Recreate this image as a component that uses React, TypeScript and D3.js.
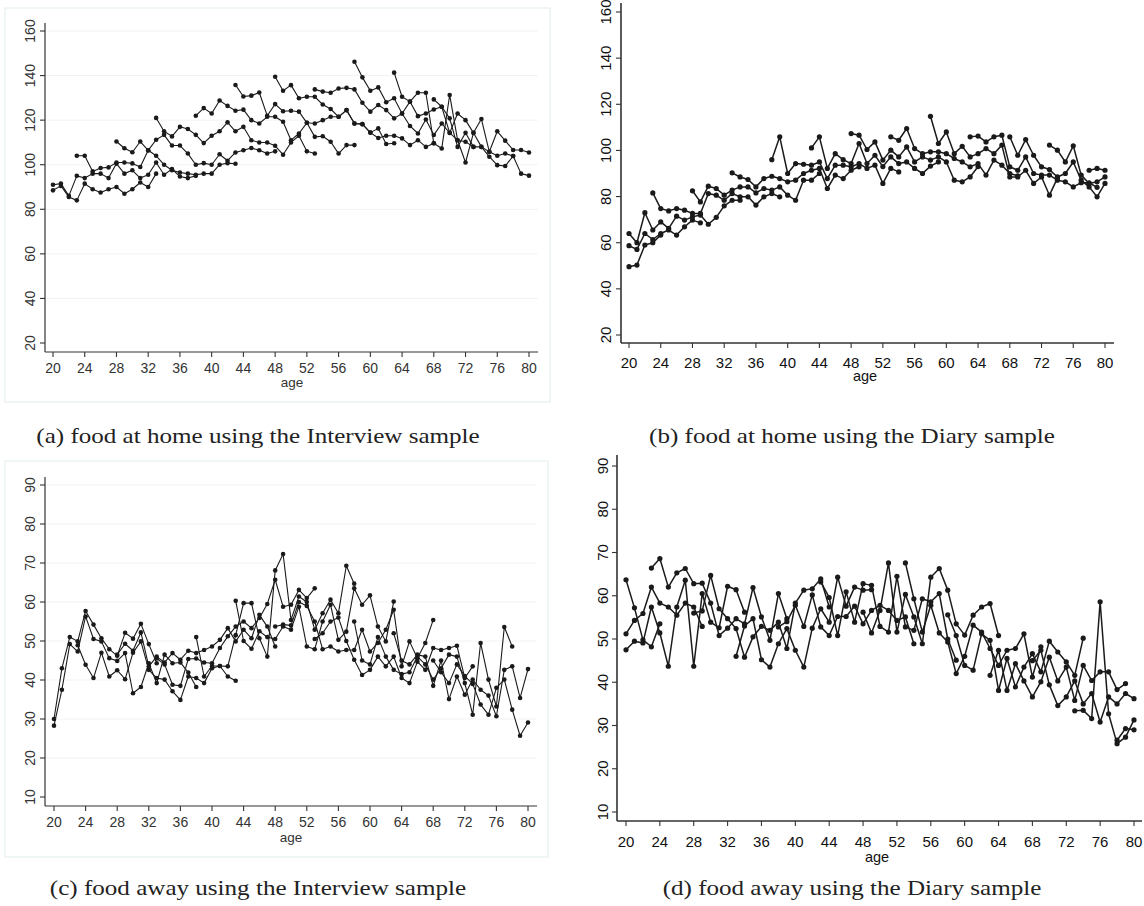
import React from 'react';
import * as d3 from 'd3';

// age ticks shared by all four panels
const xTicks = [20, 24, 28, 32, 36, 40, 44, 48, 52, 56, 60, 64, 68, 72, 76, 80];
const homeTicks = [20, 40, 60, 80, 100, 120, 140, 160];
const awayTicks = [10, 20, 30, 40, 50, 60, 70, 80, 90];

// first age shown for each cohort line
const interviewStarts = [20, 20, 23, 28, 33, 38, 43, 48, 53, 58, 63, 68];
const diaryStarts = [20, 20, 20, 23, 28, 33, 38, 43, 48, 53, 58, 63, 68, 73, 78];

// (a) food at home, Interview sample
const interviewHome = [
  [88.5, 90.5, 85.5, 84, 91.5, 89, 87.5, 89, 90, 87, 89, 92, 90, 96],
  [91, 91.5, 86, 95, 94, 96, 96, 94, 100.5, 96, 97.5, 94, 95.5, 101, 95.5, 98, 94.7, 94, 95],
  [104, 104, 97, 98.5, 98.8, 101, 101, 100.6, 99, 106.5, 104, 100, 97.5, 96.5, 96, 95.5, 96, 96, 100, 100.7, 100.4],
  [110.4, 107.4, 105.6, 110.4, 106.4, 111.2, 113.4, 108.6, 108.6, 105, 100, 100.7, 100, 104.7, 101.8, 105.5, 106.5, 107.5, 106.5, 105, 106],
  [121, 115, 112.7, 117, 116, 113.4, 109.7, 113, 115, 119, 115, 117, 111, 110, 110, 108.5, 104.5, 110, 113, 106, 105],
  [122, 125.4, 123, 128.8, 126.4, 124.2, 124.7, 120, 118.5, 121.5, 121.5, 119.3, 111, 114, 118.8, 112.5, 112.8, 110.3, 105, 108.8, 108.8],
  [135.8, 130.6, 131, 132.4, 122, 127.2, 124, 124.2, 123.8, 118.8, 118.5, 120, 121.5, 121.5, 124.5, 118.5, 118.2, 114.4, 116.3, 109.3, 109.6],
  [139.5, 133.2, 135.7, 129.8, 130.5, 130.5, 127, 125, 121.5, 124.5, 118.5, 118.2, 114.4, 112, 113, 113, 111.8, 108.8, 111, 108, 109.6],
  [133.8, 132.8, 132.3, 134.2, 134.5, 133.8, 127.8, 123.8, 126.8, 124.5, 120.8, 123, 117.4, 114, 120.3, 113.3, 118.5, 114.3, 111, 110.3, 108],
  [146.2, 139.2, 133.2, 134.7, 128, 129.8, 123, 128.3, 121.8, 123, 124.8, 126, 120.8, 108, 114.3, 108, 108, 105.8, 104, 105, 103.9],
  [141.3, 130.5, 128.3, 132.3, 132.3, 109.6, 107.3, 131.3, 111, 101, 114.3, 120.5, 105.8, 115, 110.8, 106.6, 106.6, 105.5],
  [129.3, 126, 114.3, 123, 120, 114.3, 108, 103.6, 99.8, 99.4, 103.9, 96, 95.1],
];

// (b) food at home, Diary sample
const diaryHome = [
  [49.6, 50.3, 59, 60, 63.3],
  [58.7, 57.1, 64, 61.4, 64, 65.5, 63.3, 66.9, 69.8, 68.6],
  [64, 60, 73, 65.5, 69, 66.2, 71.5, 69.8, 71.2, 72, 68, 71, 76, 78.4, 78.4],
  [81.6, 74.8, 73.8, 74.8, 74.1, 72.7, 72.7, 81.3, 80.6, 78.4, 81.3, 79.9, 79.9, 76.3, 79.9, 81.3, 79.9],
  [82.5, 77.7, 84.5, 83.5, 80.6, 82.8, 84.2, 84.2, 81.6, 83.5, 82.8, 84.2, 80.6, 78.4, 87.1, 87.1, 90],
  [90.3, 88.5, 87.4, 84.2, 87.8, 88.8, 87.8, 86.4, 87.1, 90, 91.4, 92.2, 83.5, 89.3, 87.8, 91.4, 92.9],
  [96, 105.9, 90, 94.3, 94, 93.6, 95, 87.8, 93.6, 93.6, 92.9, 94.3, 92.2, 93.6, 85.7, 92.2, 90.7],
  [101.1, 105.9, 92.2, 98.6, 96, 94.3, 103, 94.3, 97.9, 93, 97.2, 94.3, 95, 92.2, 90, 93.2, 95],
  [107.3, 106.6, 100.4, 103.7, 95.8, 100.1, 97.2, 101.5, 95, 97.2, 95.8, 97.2, 95, 87.1, 86.4, 88.5, 93],
  [105.9, 104.4, 109.5, 100.8, 98.6, 99.4, 99.4, 98.6, 96.5, 95, 92.9, 94.3, 89.3, 95.8, 93.6, 90, 89],
  [114.8, 103, 108, 98.6, 101.8, 97.2, 98.6, 100.8, 98.6, 102.3, 88.5, 88.5, 91.4, 85.7, 88.5, 80.6, 88],
  [105.9, 106.2, 103.7, 105.9, 106.6, 92.9, 91.4, 97.2, 90, 89.3, 89.3, 87.1, 86.4, 84.2, 86, 86, 84],
  [105.9, 97.9, 104.7, 97.9, 92.9, 91.7, 88.5, 90, 95, 87.1, 84.2, 79.9, 85.7],
  [102.3, 100.1, 95, 102, 89.3, 85.7, 86.4, 88.5],
  [91.4, 92.2, 91.4],
];

// (c) food away, Interview sample
const interviewAway = [
  [30, 43, 51, 49.9, 57.7, 54.2, 50.7, 47.9, 46.2, 52.1, 50.6, 54.4, 49.2, 44.3],
  [28.3, 37.5, 49.2, 47.3, 56.3, 50.5, 49.9, 45.6, 44.9, 46.9, 36.6, 38.2, 44.3, 39.2, 46.5, 44.3, 44.5, 41.9, 38.2],
  [48.9, 43.9, 40.5, 47, 40.9, 42.5, 40.2, 47, 49.9, 42.6, 40.5, 40.1, 37.1, 34.9, 40.9, 40.5, 39.2, 43, 43.6, 40.9, 39.8],
  [46.5, 49.3, 47.5, 52.2, 43.5, 46, 44.5, 46.9, 45.2, 47.5, 46.9, 47.7, 48.6, 50.3, 53.3, 49.9, 52.9, 50.7, 56.7, 53.7, 48.6],
  [45.5, 44, 38.8, 38.5, 45.4, 45.5, 44.5, 44.3, 48.2, 51.2, 53.7, 55, 53.3, 55.9, 59.5, 65.7, 58.8, 59.3, 63.1, 61, 63.5],
  [51, 40.9, 43.6, 43.6, 43.5, 51.5, 59.7, 59.7, 50.7, 46, 68.1, 72.3, 55.4, 61.4, 60, 52.9, 57.1, 60.6, 57.1, 69.3, 64.7],
  [60.3, 50, 48, 52.5, 51, 50.5, 53.7, 52.9, 58.8, 48.6, 47.9, 55, 59.3, 50.3, 52.4, 63.5, 59.3, 61.7, 53.7, 49.9, 60.1],
  [53.7, 54.2, 54, 60, 59, 55, 47.9, 48.6, 47.3, 47.7, 47.7, 52.9, 47.3, 49.5, 52.9, 58, 43.5, 49.9, 45.6, 49.5, 55.4],
  [50.5, 52, 55, 56, 50, 45.2, 41.3, 42.6, 46, 43.5, 46, 40.5, 39.2, 44.7, 42.6, 48.2, 47.7, 48.2, 48.8, 40.5, 43.5],
  [55, 45, 44, 51, 46, 42.6, 41.5, 42, 46, 44, 40.1, 43, 46.5, 46, 39.2, 31.1, 49.5, 40.1, 33.2, 53.6, 48.6],
  [52, 45, 44, 46.5, 46, 38.5, 45, 35.1, 40.9, 36.2, 40.1, 37.5, 36, 30.7, 42.6, 43.5, 35.4, 42.8],
  [45, 42, 39.2, 44, 41, 39, 33.7, 31.1, 38, 40.1, 32.4, 25.7, 29.1],
];

// (d) food away, Diary sample
const diaryAway = [
  [63.7, 57.2, 49.8, 48.2, 53.5],
  [51.2, 54.3, 55.9, 62, 58.3, 57.4, 55.5, 58.3, 57.4, 52.9],
  [47.5, 49.5, 49.1, 57.4, 51.4, 43.7, 57.4, 63.6, 43.7, 60.5, 53.9, 52.6, 62.2, 61.4, 56.2],
  [66.4, 68.6, 62, 65.3, 66.3, 62.8, 62.9, 58.3, 50.8, 52.5, 54.7, 53.5, 61.9, 55.1, 49.7, 60.5, 54.7],
  [56, 56.5, 64.7, 57, 54.7, 52.4, 45.8, 50.5, 52.9, 52, 53.9, 47.8, 58.3, 61.3, 61.6, 63.9, 57.4],
  [46, 53, 54.7, 45.2, 43.5, 48.9, 52.4, 47.4, 43.5, 52.5, 57, 53.9, 64.3, 57.6, 62, 61.3, 61.4],
  [52.8, 54, 57.8, 52.9, 60.2, 52.8, 50.8, 55.2, 55.2, 57.6, 53.5, 56.6, 57.8, 56.6, 54.3, 55.1, 48.9],
  [63.2, 59.6, 50.8, 60.9, 53.9, 62.8, 62.4, 52.9, 51.6, 64.5, 52.8, 52, 59.3, 58.6, 60.5, 50, 45.1],
  [56.2, 51.4, 56.6, 67.6, 51.6, 60.3, 55.1, 48.9, 64.3, 66.3, 61.3, 53.5, 50.9, 55.5, 57.4, 58.2, 50.8],
  [67.6, 59.3, 51.6, 57.8, 51.4, 49.3, 42, 46, 53.2, 51.6, 47.8, 43.9, 47.4, 47.8, 51.2, 41.2, 48.2],
  [55.6, 50.8, 43.9, 42.8, 51.2, 49.7, 38.1, 45.5, 38.9, 43.5, 46.6, 42.4, 49.5, 47, 44.7, 41.6, 50.2],
  [41.6, 47.4, 38.1, 44.3, 40.3, 36.6, 40.1, 45.8, 40.3, 43.5, 35.8, 43.9, 40.4, 42.4, 42.4, 38.3, 39.7],
  [45, 47.4, 39.4, 34.6, 36.6, 40.3, 35, 37.4, 30.8, 36.6, 35, 37.4, 36.2],
  [33.4, 33.5, 31.6, 58.6, 32.7, 25.8, 27.3, 31.3],
  [26.6, 29.3, 29],
];

const captions = [
  '(a) food at home using the Interview sample',
  '(b) food at home using the Diary sample',
  '(c) food away using the Interview sample',
  '(d) food away using the Diary sample',
];

type Geo = {
  axisX: number; axisY: number; axisTop: number; axisRight: number;
  x0: number; x1: number; yBottom: number; yTop: number;
  labelX: number; tickY: number; ageX: number; ageY: number;
  capX: number; capY: number;
  frame?: [number, number, number, number];
  font: number; weightStroke: number; r: number; grid: boolean;
};

const panels = [
  { data: interviewHome, starts: interviewStarts, ticks: homeTicks, cap: captions[0],
    geo: { axisX: 45, axisY: 352, axisTop: 23, axisRight: 538, x0: 53, x1: 529, yBottom: 343, yTop: 31,
      labelX: 30, tickY: 373, ageX: 292, ageY: 387, capX: 258, capY: 443,
      frame: [5, 8, 550, 402], font: 14, weightStroke: 1.1, r: 2.3, grid: true } as Geo },
  { data: diaryHome, starts: diaryStarts, ticks: homeTicks, cap: captions[1],
    geo: { axisX: 621, axisY: 343, axisTop: 3, axisRight: 1114, x0: 629, x1: 1105, yBottom: 335, yTop: 12,
      labelX: 606, tickY: 368, ageX: 865, ageY: 381, capX: 852, capY: 443,
      font: 15, weightStroke: 1.5, r: 2.6, grid: false } as Geo },
  { data: interviewAway, starts: interviewStarts, ticks: awayTicks, cap: captions[2],
    geo: { axisX: 45, axisY: 806, axisTop: 477, axisRight: 537, x0: 54, x1: 528, yBottom: 797, yTop: 485,
      labelX: 30, tickY: 827, ageX: 291, ageY: 842, capX: 258, capY: 895,
      frame: [5, 461, 548, 857], font: 14, weightStroke: 1.1, r: 2.3, grid: true } as Geo },
  { data: diaryAway, starts: diaryStarts, ticks: awayTicks, cap: captions[3],
    geo: { axisX: 617, axisY: 821, axisTop: 455, axisRight: 1142, x0: 626, x1: 1134, yBottom: 812, yTop: 466,
      labelX: 603, tickY: 847, ageX: 877, ageY: 862, capX: 852, capY: 895,
      font: 15, weightStroke: 1.5, r: 2.6, grid: false } as Geo },
];

function Panel({ data, starts, ticks, cap, geo }: { data: number[][]; starts: number[]; ticks: number[]; cap: string; geo: Geo }) {
  const x = d3.scaleLinear().domain([20, 80]).range([geo.x0, geo.x1]);
  const y = d3.scaleLinear().domain([ticks[0], ticks[ticks.length - 1]]).range([geo.yBottom, geo.yTop]);
  const line = d3.line<[number, number]>().x((d) => x(d[0])).y((d) => y(d[1]));
  const series = data.map((vals, i) => vals.map((v, j) => [starts[i] + j, v] as [number, number]));
  const txt = geo.grid ? '#333' : '#111';
  const font = 'Liberation Sans, Arial, sans-serif';

  return (
    <g>
      {geo.frame && (
        <rect x={geo.frame[0]} y={geo.frame[1]} width={geo.frame[2] - geo.frame[0]} height={geo.frame[3] - geo.frame[1]}
          fill="none" stroke="#e6eeef" strokeWidth={1.2} />
      )}
      {geo.grid && ticks.slice(1).map((t) => (
        <line key={'g' + t} x1={geo.axisX} x2={geo.axisRight} y1={y(t)} y2={y(t)} stroke="#f1f4f4" strokeWidth={1} />
      ))}
      {series.map((s, i) => (
        <g key={i}>
          <path d={line(s) || ''} fill="none" stroke="#1a1a1a" strokeWidth={geo.weightStroke} strokeLinejoin="round" />
          {s.map((d, j) => (
            <circle key={j} cx={x(d[0])} cy={y(d[1])} r={geo.r} fill="#1a1a1a" />
          ))}
        </g>
      ))}
      <line x1={geo.axisX} x2={geo.axisX} y1={geo.axisTop} y2={geo.axisY} stroke="#333" strokeWidth={geo.grid ? 1.2 : 1.6} />
      <line x1={geo.axisX} x2={geo.axisRight} y1={geo.axisY} y2={geo.axisY} stroke="#333" strokeWidth={geo.grid ? 1.2 : 1.6} />
      {ticks.map((t) => (
        <g key={'y' + t}>
          <line x1={geo.axisX - 5} x2={geo.axisX} y1={y(t)} y2={y(t)} stroke="#333" strokeWidth={1.1} />
          <text transform={`translate(${geo.labelX},${y(t)}) rotate(-90)`} textAnchor="middle" dy="0.35em"
            fontFamily={font} fontSize={geo.font} fill={txt}>{t}</text>
        </g>
      ))}
      {xTicks.map((t) => (
        <g key={'x' + t}>
          <line x1={x(t)} x2={x(t)} y1={geo.axisY} y2={geo.axisY + 5} stroke="#333" strokeWidth={1.1} />
          <text x={x(t)} y={geo.tickY} textAnchor="middle" fontFamily={font} fontSize={geo.font} fill={txt}>{t}</text>
        </g>
      ))}
      <text x={geo.ageX} y={geo.ageY} textAnchor="middle" fontFamily={font} fontSize={geo.font - 0.5} fill={txt}>age</text>
      <text transform={`translate(${geo.capX},${geo.capY}) scale(1.14,1)`} textAnchor="middle"
        fontFamily="Liberation Serif, 'DejaVu Serif', serif" fontSize={22} fill="#222">{cap}</text>
    </g>
  );
}

export default function App() {
  return (
    <svg width={1144} height={906} style={{ position: 'absolute', left: 0, top: 0, background: '#fff' }}>
      <rect width={1144} height={906} fill="#fff" />
      {panels.map((p, i) => (
        <Panel key={i} data={p.data} starts={p.starts} ticks={p.ticks} cap={p.cap} geo={p.geo} />
      ))}
    </svg>
  );
}
